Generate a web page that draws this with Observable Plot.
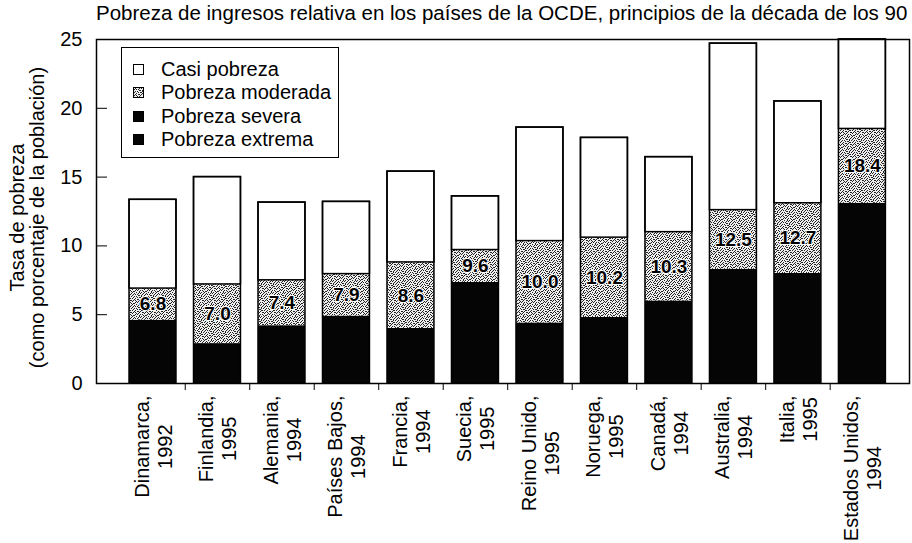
<!DOCTYPE html>
<html><head><meta charset="utf-8">
<script src="https://cdn.jsdelivr.net/npm/d3@7"></script>
<script src="https://cdn.jsdelivr.net/npm/@observablehq/plot@0.6"></script>
<style>
body{margin:0;background:#fff;font-family:"Liberation Sans",Arial,sans-serif;color:#000}
#wrap{position:relative;width:912px;height:543px;overflow:hidden;background:#fff}
#title{height:28px;line-height:26px;font-size:20.5px;padding-left:96px;white-space:nowrap}
#legend{position:absolute;left:121px;top:47px;width:216px;height:109px;border:1.5px solid #000;background:#fff;font-size:20px}
.item{position:absolute;left:11px;height:24px;display:flex;align-items:center;white-space:nowrap}
.item svg{margin-right:17px;display:block}
#defs{position:absolute;width:0;height:0;left:0;top:0}
</style></head>
<body>
<svg id="defs" width="0" height="0"><defs>
<pattern id="stipple" width="12" height="12" patternUnits="userSpaceOnUse"></pattern></defs></svg>
<div id="wrap">
<div id="title">Pobreza de ingresos relativa en los países de la OCDE, principios de la década de los 90</div>
<div id="chart"></div>
<div id="legend"></div>
</div>
<script>
const names = ["Dinamarca","Finlandia","Alemania","Países Bajos","Francia","Suecia","Reino Unido","Noruega","Canadá","Australia","Italia","Estados Unidos"];
const years = ["1992","1995","1994","1994","1994","1995","1995","1995","1994","1994","1995","1994"];
// top of black segment (pobreza severa + extrema)
const severeExtremeTop = [4.6, 2.9, 4.2, 4.9, 4.0, 7.35, 4.4, 4.8, 6.0, 8.3, 8.0, 13.1];
// top of stippled segment (pobreza moderada)
const moderateTop = [6.9, 7.2, 7.5, 7.95, 8.8, 9.7, 10.35, 10.6, 11.0, 12.6, 13.1, 18.5];
// top of white segment (casi pobreza)
const nearPovertyTop = [13.35, 15.0, 13.15, 13.2, 15.4, 13.6, 18.6, 17.85, 16.45, 24.7, 20.5, 25.0];
const moderateLabels = ["6.8","7.0","7.4","7.9","8.6","9.6","10.0","10.2","10.3","12.5","12.7","18.4"];
const yTicks = [0, 5, 10, 15, 20, 25];
const legendItems = ["Casi pobreza","Pobreza moderada","Pobreza severa","Pobreza extrema"];
const legendFills = ["#fff","url(#stipple)","#050505","#050505"];

// fixed stipple texture (printed screen look)
const stippleMask = [
  "100010010100","001000101001","010101000010","100000110100",
  "001010000101","010001011000","100100000110","001001101000",
  "010100010011","100010100000","000101001010","011000010001"];
const pat = document.getElementById("stipple");
const ns = "http://www.w3.org/2000/svg";
const bg = document.createElementNS(ns, "rect");
bg.setAttribute("width", 12); bg.setAttribute("height", 12); bg.setAttribute("fill", "#eeeeee");
pat.appendChild(bg);
stippleMask.forEach((row, r) => [...row].forEach((c, k) => {
  if (c === "1") {
    const p = document.createElementNS(ns, "rect");
    p.setAttribute("x", k); p.setAttribute("y", r); p.setAttribute("width", 1); p.setAttribute("height", 1);
    p.setAttribute("fill", "#222");
    pat.appendChild(p);
  }
}));

const idx = d3.range(names.length);
const rows = idx.map(i => ({i, b: severeExtremeTop[i], m: moderateTop[i], t: nearPovertyTop[i], lab: moderateLabels[i]}));
const hw = 0.364;
const font = '"Liberation Sans", Arial, sans-serif';

const chart = Plot.plot({
  width: 912, height: 515,
  marginTop: 11, marginBottom: 160, marginLeft: 96, marginRight: 3,
  style: {fontFamily: font, fontSize: "20px", color: "#000", background: "transparent", overflow: "visible"},
  x: {type: "linear", domain: [-0.876, 11.73]},
  y: {domain: [0, 25]},
  marks: [
    Plot.rectY(rows, {x1: d => d.i - hw, x2: d => d.i + hw, y1: 0, y2: "b", fill: "#050505"}),
    Plot.rectY(rows, {x1: d => d.i - hw, x2: d => d.i + hw, y1: "b", y2: "m", fill: "url(#stipple)"}),
    Plot.rectY(rows, {x1: d => d.i - hw, x2: d => d.i + hw, y1: "m", y2: "t", fill: "#fff", stroke: "#000", strokeWidth: 1.5}),
    Plot.rectY(rows, {x1: d => d.i - hw, x2: d => d.i + hw, y1: 0, y2: "t", fill: "none", stroke: "#000", strokeWidth: 1.5}),
    Plot.text(rows, {x: "i", y: d => (d.b + d.m) / 2, text: "lab", fontSize: 19, fontWeight: "bold", fill: "#000", stroke: "#fff", strokeWidth: 2}),
    Plot.frame({stroke: "#000", strokeWidth: 1.5}),
    Plot.axisY(yTicks, {tickSize: -11, tickPadding: 25, fontSize: 20, label: null, tickFormat: d => String(d)}),
    Plot.axisX(idx.slice(0, -1).map(i => i + 0.5), {tickSize: 7, tickFormat: () => "", label: null}),
    Plot.axisX(idx, {tickSize: 0, tickPadding: 12, tickRotate: -90, fontSize: 20, lineHeight: 1.15, label: null,
      tickFormat: i => `${names[i]},\n${years[i]}`}),
    Plot.text(["Tasa de pobreza\n(como porcentaje de la población)"], {frameAnchor: "left", rotate: -90, dx: -69, dy: 6, fontSize: 20, lineHeight: 1.0, textAnchor: "middle", lineAnchor: "middle"})
  ]
});
document.getElementById("chart").appendChild(chart);

// centre the two lines of each category label on each other (top of the longest line at the axis offset)
d3.select(chart).selectAll('g[aria-label="x-axis tick label"] text').each(function() {
  const spans = this.querySelectorAll("tspan");
  if (spans.length < 2) return;
  let L = 0;
  spans.forEach(s => { L = Math.max(L, s.getComputedTextLength()); });
  this.setAttribute("text-anchor", "middle");
  const tr = this.getAttribute("transform") || "";
  this.setAttribute("transform", tr + ` translate(${-L / 2},0)`);
});

const leg = document.getElementById("legend");
const centers = [21, 44, 68, 91];
legendItems.forEach((name, k) => {
  const div = document.createElement("div");
  div.className = "item";
  div.style.top = (centers[k] - 12) + "px";
  div.innerHTML = `<svg width="11" height="11"><rect x="0.5" y="0.5" width="10" height="10" fill="${legendFills[k]}" stroke="#000" stroke-width="1"/></svg><span>${name}</span>`;
  leg.appendChild(div);
});
</script>
</body></html>
